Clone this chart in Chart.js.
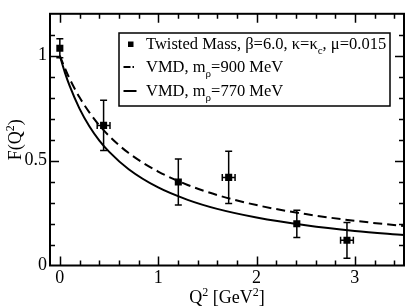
<!DOCTYPE html>
<html>
<head>
<meta charset="utf-8">
<script src="https://cdn.jsdelivr.net/npm/chart.js@4/dist/chart.umd.min.js"></script>
<style>
html,body{margin:0;padding:0;background:#fff;}
</style>
</head>
<body>
<canvas id="mycanvas" width="409" height="308"></canvas>
<script>
// lattice data points
var q2 = [0.0, 0.445, 1.205, 1.717, 2.41, 2.92];
var ff = [1.036, 0.668, 0.398, 0.42, 0.199, 0.12];
var ffErr = [0.045, 0.12, 0.11, 0.125, 0.065, 0.085];
var q2Err = [0, 0.065, 0, 0.065, 0, 0.065];

// VMD curves
var curveQ2 = [0, 0.05, 0.1, 0.2, 0.3, 0.4, 0.5, 0.7, 1.0, 1.3, 1.6, 2.0, 2.5, 3.0, 3.5];
var vmd900 = [1.0, 0.942, 0.890, 0.802, 0.730, 0.669, 0.618, 0.536, 0.448, 0.384, 0.336, 0.288, 0.245, 0.213, 0.188];
var vmd770 = [1.0, 0.922, 0.856, 0.748, 0.664, 0.597, 0.543, 0.459, 0.372, 0.313, 0.270, 0.229, 0.192, 0.165, 0.145];

var labels = ['Twisted Mass, \u03b2=6.0, \u03ba=\u03ba_{c}, \u03bc=0.015', 'VMD, m_{\u03c1}=900 MeV', 'VMD, m_{\u03c1}=770 MeV'];
var xTicks = [0, 1, 2, 3];
var yTicks = [0, 0.5, 1];
var xTitle = 'Q^{2} [GeV^{2}]';
var yTitle = 'F(Q^{2})';

var FONT = "'Liberation Serif', 'DejaVu Serif', serif";

function pts(xs, ys) {
	var out = [];
	for (var i in xs) {
		out.push({x: xs[i], y: ys[i]});
	}
	return out;
}

// text with _{} subscripts and ^{} superscripts
function richParts(text) {
	var parts = [];
	var re = /([_^])\{([^}]*)\}/g;
	var last = 0, m;
	while ((m = re.exec(text)) !== null) {
		if (m.index > last) parts.push({t: text.slice(last, m.index), k: ''});
		parts.push({t: m[2], k: m[1]});
		last = re.lastIndex;
	}
	if (last < text.length) parts.push({t: text.slice(last), k: ''});
	return parts;
}

function richText(ctx, text, x, y, size, draw) {
	var parts = richParts(text);
	var w = 0;
	for (var i = 0; i < parts.length; i++) {
		var p = parts[i];
		var s = p.k ? Math.round(size * 0.65) : size;
		ctx.font = s + 'px ' + FONT;
		var dy = p.k === '_' ? size * 0.3 : (p.k === '^' ? -size * 0.4 : 0);
		if (draw) ctx.fillText(p.t, x + w, y + dy);
		w += ctx.measureText(p.t).width;
	}
	return w;
}

var decor = {
	id: 'decor',
	afterDatasetsDraw: function(chart) {
		var ctx = chart.ctx;
		var xs = chart.scales.x, ys = chart.scales.y;
		ctx.save();
		ctx.strokeStyle = '#000';
		ctx.lineWidth = 1.5;
		for (var i = 0; i < q2.length; i++) {
			var px = xs.getPixelForValue(q2[i]);
			var py = ys.getPixelForValue(ff[i]);
			var top = ys.getPixelForValue(ff[i] + ffErr[i]);
			var bot = ys.getPixelForValue(ff[i] - ffErr[i]);
			ctx.beginPath();
			ctx.moveTo(px, top); ctx.lineTo(px, bot);
			ctx.moveTo(px - 3.5, top); ctx.lineTo(px + 3.5, top);
			ctx.moveTo(px - 3.5, bot); ctx.lineTo(px + 3.5, bot);
			if (q2Err[i] > 0) {
				var l = xs.getPixelForValue(q2[i] - q2Err[i]);
				var r = xs.getPixelForValue(q2[i] + q2Err[i]);
				ctx.moveTo(l, py); ctx.lineTo(r, py);
				ctx.moveTo(l, py - 3.5); ctx.lineTo(l, py + 3.5);
				ctx.moveTo(r, py - 3.5); ctx.lineTo(r, py + 3.5);
			}
			ctx.stroke();
		}
		ctx.restore();
	},
	afterDraw: function(chart) {
		var ctx = chart.ctx;
		var a = chart.chartArea;
		var xs = chart.scales.x, ys = chart.scales.y;
		ctx.save();
		ctx.strokeStyle = '#000';
		ctx.fillStyle = '#000';

		// ticks on all four sides, pointing in
		ctx.lineWidth = 1.5;
		ctx.beginPath();
		for (var k = 0; k <= 17; k++) {
			var v = k * 0.2;
			var len = (k % 5 === 0) ? 9 : 5;
			var px = Math.round(xs.getPixelForValue(v)) + 0.5;
			ctx.moveTo(px, a.bottom); ctx.lineTo(px, a.bottom - len);
			ctx.moveTo(px, a.top); ctx.lineTo(px, a.top + len);
		}
		for (var j = 1; j <= 11; j++) {
			var vy = j * 0.1;
			var leny = (j % 5 === 0) ? 9 : 5;
			var py = Math.round(ys.getPixelForValue(vy)) + 0.5;
			ctx.moveTo(a.left, py); ctx.lineTo(a.left + leny, py);
			ctx.moveTo(a.right, py); ctx.lineTo(a.right - leny, py);
		}
		ctx.stroke();

		// frame
		ctx.lineWidth = 2;
		ctx.strokeRect(a.left, a.top, a.right - a.left, a.bottom - a.top);

		// axis titles
		ctx.textBaseline = 'alphabetic';
		var tw = richText(ctx, xTitle, 0, 0, 18, false);
		richText(ctx, xTitle, (a.left + a.right) / 2 - tw / 2, 303, 18, true);
		ctx.save();
		ctx.translate(21, (a.top + a.bottom) / 2);
		ctx.rotate(-Math.PI / 2);
		var th = richText(ctx, yTitle, 0, 0, 18, false);
		richText(ctx, yTitle, -th / 2, 0, 18, true);
		ctx.restore();

		// legend
		var bx = 119, by = 33, bw = 271, bh = 73;
		ctx.fillStyle = '#fff';
		ctx.fillRect(bx, by, bw, bh);
		ctx.lineWidth = 1.5;
		ctx.strokeRect(bx, by, bw, bh);
		ctx.fillStyle = '#000';
		var rows = [49, 72, 96];
		for (var r = 0; r < labels.length; r++) {
			var cy = rows[r] - 5;
			if (r === 0) {
				ctx.fillRect(128, cy - 2.5, 5.5, 5.5);
			} else {
				ctx.beginPath();
				ctx.lineWidth = 2;
				ctx.setLineDash(r === 1 ? [7, 2, 1.5, 20] : []);
				ctx.moveTo(123.5, cy);
				ctx.lineTo(136.5, cy);
				ctx.stroke();
				ctx.setLineDash([]);
			}
			richText(ctx, labels[r], 146, rows[r], 16.5, true);
		}
		ctx.restore();
	}
};

var chartdata = {
	datasets: [
		{
			label: labels[0],
			data: pts(q2, ff),
			showLine: false,
			pointStyle: 'rect',
			pointRadius: 5,
			backgroundColor: '#000',
			borderColor: '#000',
			borderWidth: 0,
			order: 0
		},
		{
			label: labels[1],
			data: pts(curveQ2, vmd900),
			showLine: true,
			borderColor: '#000',
			borderWidth: 2,
			borderDash: [9, 5],
			pointRadius: 0,
			cubicInterpolationMode: 'monotone',
			order: 1
		},
		{
			label: labels[2],
			data: pts(curveQ2, vmd770),
			showLine: true,
			borderColor: '#000',
			borderWidth: 2,
			pointRadius: 0,
			cubicInterpolationMode: 'monotone',
			order: 2
		}
	]
};

var ctx = document.getElementById('mycanvas');

var plot = new Chart(ctx, {
	type: 'scatter',
	data: chartdata,
	options: {
		responsive: false,
		animation: false,
		devicePixelRatio: 1,
		layout: { padding: { top: 2, right: 1, left: 0, bottom: 0 } },
		plugins: {
			legend: { display: false },
			tooltip: { enabled: false }
		},
		scales: {
			x: {
				type: 'linear',
				min: -0.1,
				max: 3.5,
				afterBuildTicks: function(scale) {
					scale.ticks = xTicks.map(function(v) { return {value: v}; });
				},
				afterFit: function(scale) { scale.height = 42.5; },
				grid: { display: false, drawTicks: false },
				border: { display: false },
				ticks: {
					padding: 2,
					color: '#000',
					font: { family: FONT, size: 18 },
					maxRotation: 0,
					callback: function(v) { return String(v); }
				}
			},
			y: {
				type: 'linear',
				min: 0,
				max: 1.2,
				afterBuildTicks: function(scale) {
					scale.ticks = yTicks.map(function(v) { return {value: v}; });
				},
				afterFit: function(scale) { scale.width = 50; },
				grid: { display: false, drawTicks: false },
				border: { display: false },
				ticks: {
					padding: 3,
					color: '#000',
					font: { family: FONT, size: 18 },
					callback: function(v) { return String(v); }
				}
			}
		}
	},
	plugins: [decor]
});
</script>
</body>
</html>
